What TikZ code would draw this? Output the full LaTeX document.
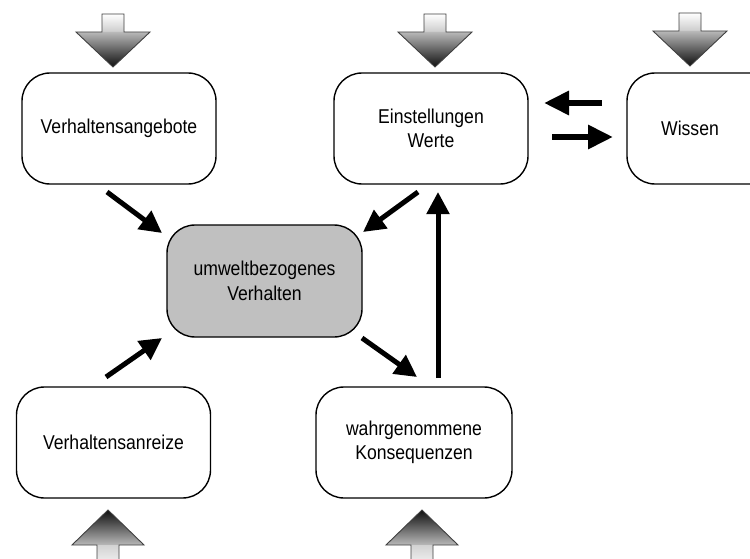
\documentclass[tikz,border=0pt]{standalone}
\usepackage{fontspec}
\setmainfont[FakeStretch=0.88]{Liberation Sans}
\usetikzlibrary{arrows.meta}
\definecolor{centrefill}{HTML}{C0C0C0}
\definecolor{arrowline}{HTML}{404040}
\begin{document}
\begin{tikzpicture}[x=1pt,y=-1pt,
  box/.style={draw=black, line width=1.4pt, rounded corners=28pt, fill=white,
    minimum width=194pt, minimum height=111pt, align=center, inner sep=0pt,
    font=\fontsize{20}{24.5}\selectfont},
  lbl/.style={inner sep=0pt, font=\fontsize{20}{24.5}\selectfont},
  blk/.style={line width=5pt, -{Triangle[length=22pt,width=22pt]}},
  blkh/.style={line width=6pt, -{Triangle[length=25pt,width=23pt]}},
  bigdown/.pic={
    \shade[top color=white, bottom color=gray!40] (-11,-53) rectangle (11,-35);
    \shade[top color=gray!55, bottom color=gray!12!black] (-37,-35) -- (37,-35) -- (0,0) -- cycle;
    \draw[line width=0.9pt, draw=arrowline, line join=miter] (-11,-53) -- (11,-53) -- (11,-35) -- (37,-35) -- (0,0) -- (-37,-35) -- (-11,-35) -- cycle;
  },
  bigup/.pic={
    \shade[top color=gray!12!black, bottom color=gray!55] (0,0) -- (36,35) -- (-36,35) -- cycle;
    \shade[top color=gray!35, bottom color=white] (-11,35) rectangle (11,62);
    \draw[line width=0.9pt, draw=arrowline, line join=miter] (-11,62) -- (-11,35) -- (-36,35) -- (0,0) -- (36,35) -- (11,35) -- (11,62);
  }]
\useasboundingbox (0,0) rectangle (750,559);

% big grey input arrows
\pic at (113,67) {bigdown};
\pic at (435,67) {bigdown};
\pic at (690,66) {bigdown};
\pic at (108,510) {bigup};
\pic at (422,510) {bigup};

% boxes
\node[box] (angebote) at (119,128.5) {Verhaltensangebote};
\node[box, fill=centrefill, minimum width=195pt, minimum height=112pt] (zentral) at (264.5,281) {umweltbezogenes\\Verhalten};
\node[box] (einst) at (431,128.5) {Einstellungen\\Werte};
\node[box] (wissen) at (724,128.5) {};
\node[lbl] (wissentext) at (690,128) {Wissen};
\node[box] (anreize) at (113.5,442.5) {Verhaltensanreize};
\node[box, minimum width=196pt] (konseq) at (414,442.5) {wahrgenommene\\Konsequenzen};

% arrow end points
\coordinate (a1s) at (107,192);  \coordinate (a1e) at (162,233);
\coordinate (a2s) at (418,192);  \coordinate (a2e) at (363,232);
\coordinate (a3s) at (106,377);  \coordinate (a3e) at (162,338);
\coordinate (a4s) at (362,338);  \coordinate (a4e) at (417,377);
\coordinate (a5s) at (438,378);  \coordinate (a5e) at (438,192);
\coordinate (a6s) at (602,103);  \coordinate (a6e) at (544,103);
\coordinate (a7s) at (552,137);  \coordinate (a7e) at (613,137);

\draw[blk] (a1s) -- (a1e);
\draw[blk] (a2s) -- (a2e);
\draw[blk] (a3s) -- (a3e);
\draw[blk] (a4s) -- (a4e);
\draw[blk] (a5s) -- (a5e);
\draw[blkh] (a6s) -- (a6e);
\draw[blkh] (a7s) -- (a7e);
\end{tikzpicture}
\end{document}
